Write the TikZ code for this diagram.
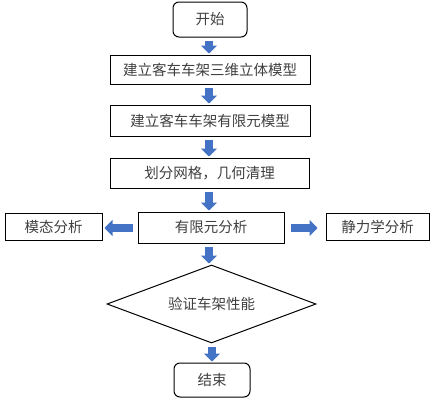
\documentclass[tikz,border=0pt]{standalone}
\usepackage{fontspec}
\setmainfont{Noto Sans CJK SC}
\usetikzlibrary{shapes.geometric,arrows.meta}
\definecolor{txt}{HTML}{404040}
\definecolor{arrowblue}{HTML}{4472C4}
\tikzset{
  base/.style={draw=black, line width=1pt, text=txt, inner sep=0pt, font=\fontsize{14.5pt}{16pt}\selectfont},
  procbox/.style={base, rectangle},
  termbox/.style={base, rectangle, rounded corners=6pt},
  decbox/.style={base, diamond, aspect=2.68},
  blockarrow/.style={draw=arrowblue, line width=8pt, -{Triangle[width=16pt,length=8pt]}, shorten <=3pt, shorten >=1pt}
}
\begin{document}
\begin{tikzpicture}[x=1pt,y=-1pt]
\useasboundingbox (0,0) rectangle (434,402);
\node[termbox, minimum width=74pt, minimum height=35pt] (start) at (210,19.5) {开始};
\node[procbox, minimum width=200pt, minimum height=29pt] (model3d) at (210,69.5) {建立客车车架三维立体模型};
\node[procbox, minimum width=200pt, minimum height=31pt] (femodel) at (210,120.5) {建立客车车架有限元模型};
\node[procbox, minimum width=199pt, minimum height=30pt] (mesh) at (209.5,173) {划分网格，几何清理};
\node[procbox, minimum width=146pt, minimum height=31pt] (fea) at (211,227.5) {有限元分析};
\node[procbox, minimum width=97pt, minimum height=27pt] (modal) at (53.5,226.5) {模态分析};
\node[procbox, minimum width=103pt, minimum height=27pt] (static) at (377.5,226.5) {静力学分析};
\node[decbox, minimum width=209pt, minimum height=78pt] (verify) at (211.5,304) {验证车架性能};
\node[termbox, minimum width=76pt, minimum height=34pt] (end) at (212,380) {结束};
\draw[blockarrow] (start.south -| 209,0) -- (model3d.north -| 209,0);
\draw[blockarrow] (model3d.south -| 209,0) -- (femodel.north -| 209,0);
\draw[blockarrow] (femodel.south -| 209,0) -- (mesh.north -| 209,0);
\draw[blockarrow] (mesh.south -| 209,0) -- (fea.north -| 209,0);
\draw[blockarrow] (fea.south -| 209,0) -- (verify.north -| 209,0);
\draw[blockarrow] (verify.south -| 212,0) -- (end.north -| 212,0);
\draw[blockarrow, shorten <=5pt, shorten >=2pt] (fea.west |- 0,228) -- (modal.east |- 0,228);
\draw[blockarrow, shorten <=6pt, shorten >=8pt] (fea.east |- 0,228) -- (static.west |- 0,228);
\end{tikzpicture}
\end{document}
